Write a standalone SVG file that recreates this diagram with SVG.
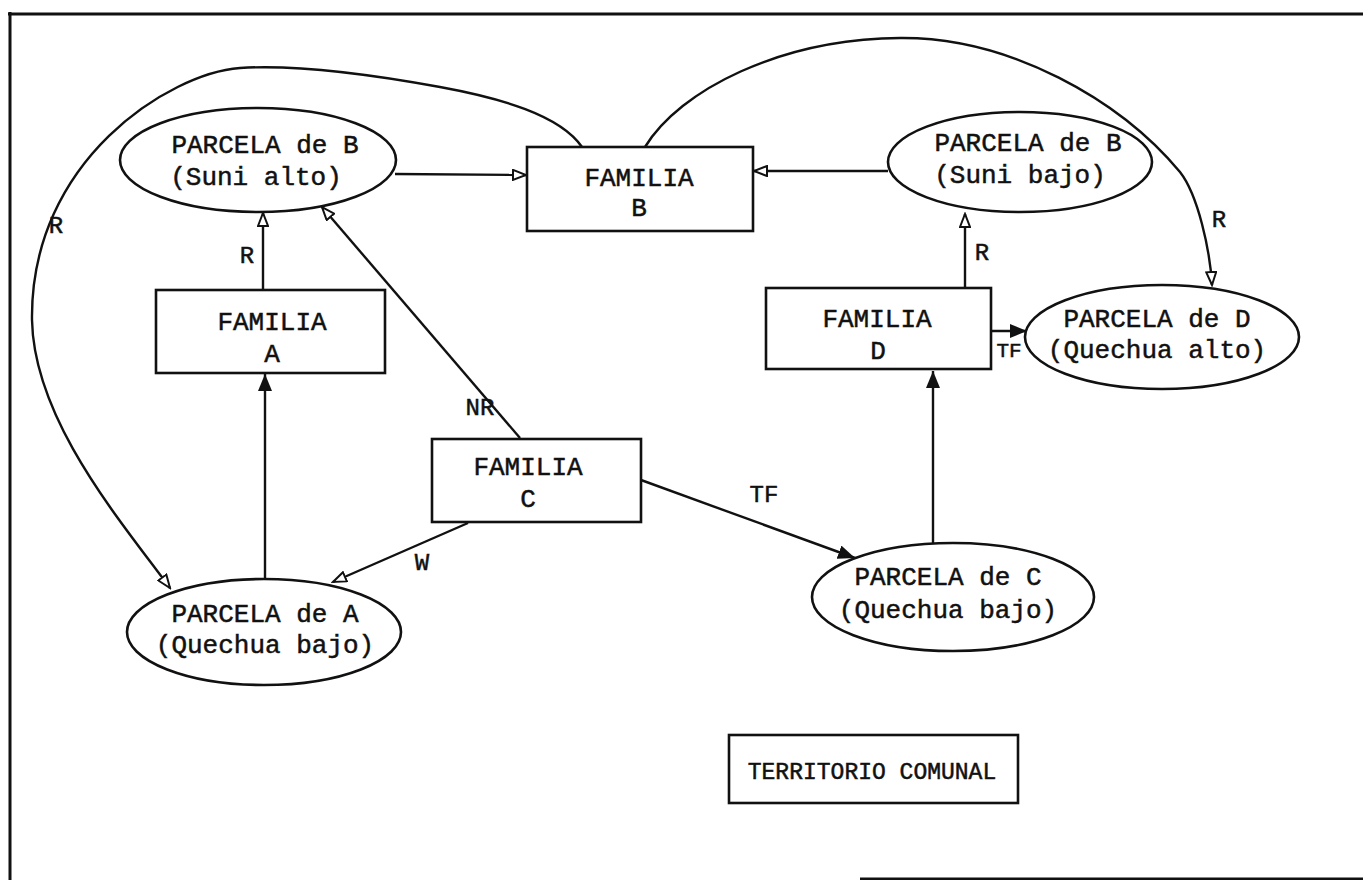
<svg xmlns="http://www.w3.org/2000/svg" width="1363" height="880" viewBox="0 0 1363 880">
<style>
  .shape { fill: #fff; stroke: #111; stroke-width: 2.6; }
  .conn { fill: none; stroke: #111; stroke-width: 2.4; }
  .t { font-family: "Liberation Mono", "DejaVu Sans Mono", monospace; font-size: 26px; fill: #111; stroke: #111; stroke-width: 0.5; text-anchor: middle; }
  .lbl { font-family: "Liberation Mono", "DejaVu Sans Mono", monospace; font-size: 24px; fill: #111; stroke: #111; stroke-width: 0.5; text-anchor: middle; }
  .frame { stroke: #111; stroke-width: 3; fill: none; }
</style>
<defs>
  <marker id="open" markerUnits="userSpaceOnUse" markerWidth="16" markerHeight="12" refX="14" refY="6" orient="auto">
    <path d="M1,1 L14,6 L1,11 z" fill="#fff" stroke="#111" stroke-width="2"/>
  </marker>
  <marker id="solid" markerUnits="userSpaceOnUse" markerWidth="18" markerHeight="14" refX="17" refY="7" orient="auto">
    <path d="M0,0 L17,7 L0,14 z" fill="#111"/>
  </marker>
</defs>
<rect width="1363" height="880" fill="#fff"/>
<g id="frame">
  <line class="frame" x1="8" y1="14" x2="1363" y2="14"/>
  <line class="frame" x1="10" y1="12" x2="10" y2="880"/>
  <line class="frame" x1="860" y1="879" x2="1363" y2="879"/>
</g>
<g id="connectors">
  <path class="conn" d="M395,174 L526,175" marker-end="url(#open)"/>
  <path class="conn" d="M888,171 L754,171" marker-end="url(#open)"/>
  <path class="conn" d="M263,290 L263,213" marker-end="url(#open)"/>
  <path class="conn" d="M520,438 L322,207" marker-end="url(#open)"/>
  <path class="conn" d="M265,578 L265,374" marker-end="url(#solid)"/>
  <path class="conn" d="M468,523 L333,582" marker-end="url(#open)"/>
  <path class="conn" d="M641,480 L855,558" marker-end="url(#solid)"/>
  <path class="conn" d="M933,543 L933,371" marker-end="url(#solid)"/>
  <path class="conn" d="M965,288 L965,214" marker-end="url(#open)"/>
  <path class="conn" d="M992,331 L1027,331" marker-end="url(#solid)"/>
  <path class="conn" d="M582,147 C560,115 500,98 440,87 C380,76 300,64 240,68 C170,73 30,160 32,320 C34,420 120,520 170,588" marker-end="url(#open)"/>
  <path class="conn" d="M645,147 C680,90 780,39 900,38 C1010,37 1120,100 1180,172 C1198,195 1210,250 1212,285" marker-end="url(#open)"/>
  <text class="lbl" x="247" y="263">R</text>
  <text class="lbl" x="56" y="233">R</text>
  <text class="lbl" x="480" y="415">NR</text>
  <text class="lbl" x="422" y="570">W</text>
  <text class="lbl" x="764" y="502">TF</text>
  <text class="lbl" x="982" y="260">R</text>
  <text class="lbl" x="1219" y="227">R</text>
  <text class="lbl" x="1009" y="357" style="font-size:21px">TF</text>
</g>
<g id="parcela-b-alto">
  <ellipse class="shape" cx="258" cy="160" rx="138" ry="52"/>
  <text class="t" x="265" y="153">PARCELA de B</text>
  <text class="t" x="256" y="185">(Suni alto)</text>
</g>
<g id="familia-b">
  <rect class="shape" x="527" y="147" width="226" height="84"/>
  <text class="t" x="639" y="186">FAMILIA</text>
  <text class="t" x="639" y="216">B</text>
</g>
<g id="parcela-b-bajo">
  <ellipse class="shape" cx="1020" cy="162" rx="132" ry="50"/>
  <text class="t" x="1028" y="151">PARCELA de B</text>
  <text class="t" x="1020" y="183">(Suni bajo)</text>
</g>
<g id="familia-a">
  <rect class="shape" x="156" y="290" width="229" height="83"/>
  <text class="t" x="272" y="330">FAMILIA</text>
  <text class="t" x="272" y="362">A</text>
</g>
<g id="familia-d">
  <rect class="shape" x="766" y="288" width="225" height="81"/>
  <text class="t" x="877" y="327">FAMILIA</text>
  <text class="t" x="878" y="359">D</text>
</g>
<g id="parcela-d">
  <ellipse class="shape" cx="1162" cy="337" rx="137" ry="52"/>
  <text class="t" x="1157" y="327">PARCELA de D</text>
  <text class="t" x="1157" y="358">(Quechua alto)</text>
</g>
<g id="familia-c">
  <rect class="shape" x="432" y="439" width="209" height="83"/>
  <text class="t" x="528" y="475">FAMILIA</text>
  <text class="t" x="528" y="507">C</text>
</g>
<g id="parcela-a">
  <ellipse class="shape" cx="264" cy="632" rx="137" ry="53"/>
  <text class="t" x="265" y="622">PARCELA de A</text>
  <text class="t" x="265" y="653">(Quechua bajo)</text>
</g>
<g id="parcela-c">
  <ellipse class="shape" cx="953" cy="597" rx="141" ry="54"/>
  <text class="t" x="948" y="585">PARCELA de C</text>
  <text class="t" x="948" y="618">(Quechua bajo)</text>
</g>
<g id="territorio">
  <rect class="shape" x="729" y="735" width="289" height="68"/>
  <text class="t" x="872" y="779" style="font-size:23px">TERRITORIO COMUNAL</text>
</g>
</svg>
